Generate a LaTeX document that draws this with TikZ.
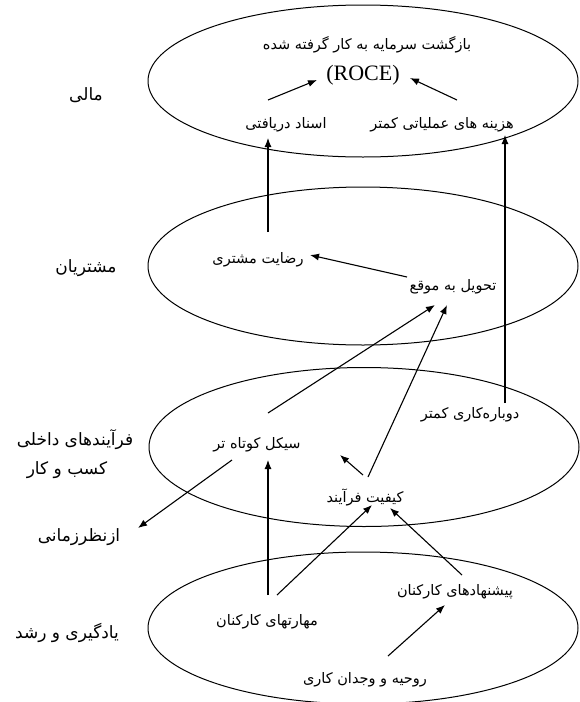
\documentclass[tikz,border=0pt]{standalone}
\usepackage{fontspec}
\setmainfont{Liberation Serif}
\newfontfamily\farsi[Script=Arabic]{DejaVu Sans}
\TeXXeTstate=1
\usetikzlibrary{arrows.meta,shapes.geometric}
\newcommand{\fatxt}[1]{{\farsi\beginR #1\endR}}

\begin{document}
\begin{tikzpicture}[x=1pt,y=-1pt,>={Latex[length=9pt,width=7pt]},line width=1.1pt,
		every node/.style={font=\fontsize{14.5}{17}\selectfont},
		ring/.style={draw,line width=1pt,ellipse,minimum width=430pt},
		side/.style={font=\fontsize{17}{20}\selectfont}]
			\useasboundingbox (0,0) rectangle (579,702);

			\node[ring,minimum height=152pt] (emali) at (363,81) {};
			\node[ring,minimum height=158pt] (emoshtari) at (363,266) {};
			\node[ring,minimum height=159pt] (efarayand) at (364,447) {};
			\node[ring,minimum height=152pt] (eyadgiri) at (363,628) {};

			\node[side] (mali) at (86,95) {\fatxt{مالی}};
			\node[side] (moshtari) at (86,268) {\fatxt{مشتریان}};
			\node[side] (farayand) at (75,440) {\fatxt{فرآیندهای داخلی}};
			\node[side] (kasb) at (67,470) {\fatxt{کسب و کار}};
			\node[side] (zamani) at (79,537) {\fatxt{ازنظرزمانی}};
			\node[side] (yadgiri) at (67,633) {\fatxt{یادگیری و رشد}};

			\node (bazgasht) at (367,45) {\fatxt{بازگشت سرمایه به کار گرفته شده}};
			\node[font=\fontsize{22}{24}\selectfont] (roce) at (363,75) {(ROCE)};
			\node (asnad) at (286,125) {\fatxt{اسناد دریافتی}};
			\node (hazine) at (442,125) {\fatxt{هزینه های عملیاتی کمتر}};
			\node (riza) at (258,260) {\fatxt{رضایت مشتری}};
			\node (tahvil) at (453,287) {\fatxt{تحویل به موقع}};
			\node (dobare) at (470,415) {\fatxt{دوباره‌کاری کمتر}};
			\node (sikl) at (257,445) {\fatxt{سیکل کوتاه تر}};
			\node (keyfiat) at (365,497) {\fatxt{کیفیت فرآیند}};
			\node (maharat) at (267,622) {\fatxt{مهارتهای کارکنان}};
			\node (pishnehad) at (455,592) {\fatxt{پیشنهادهای کارکنان}};
			\node (ruhiye) at (365,680) {\fatxt{روحیه و وجدان کاری}};

			\draw[->] ([shift={(-18,-25)}]asnad.center) to ([shift={(-46,5)}]roce.center);
			\draw[->] ([shift={(15,-25)}]hazine.center) to ([shift={(47,3)}]roce.center);
			\draw[->] ([shift={(10,-28)}]riza.center) to ([shift={(-18,13)}]asnad.center);
			\draw[->] ([shift={(35,-12)}]dobare.center) to ([shift={(63,10)}]hazine.center);
			\draw[->] ([shift={(-46,-10)}]tahvil.center) to ([shift={(52,-5)}]riza.center);
			\draw[->] ([shift={(11,-32)}]sikl.center) to ([shift={(-18,18)}]tahvil.center);
			\draw[->] ([shift={(3,-20)}]keyfiat.center) to ([shift={(-6,18)}]tahvil.center);
			\draw[->] ([shift={(-2,-22)}]keyfiat.center) to ([shift={(83,10)}]sikl.center);
			\draw[->] ([shift={(-25,15)}]sikl.center) to ([shift={(59,-9)}]zamani.center);
			\draw[->] ([shift={(1,-27)}]maharat.center) to ([shift={(11,15)}]sikl.center);
			\draw[->] ([shift={(10,-27)}]maharat.center) to ([shift={(7,8)}]keyfiat.center);
			\draw[->] ([shift={(7,-17)}]pishnehad.center) to ([shift={(25,11)}]keyfiat.center);
			\draw[->] ([shift={(23,-24)}]ruhiye.center) to ([shift={(-10,13)}]pishnehad.center);
		\end{tikzpicture}
\end{document}
